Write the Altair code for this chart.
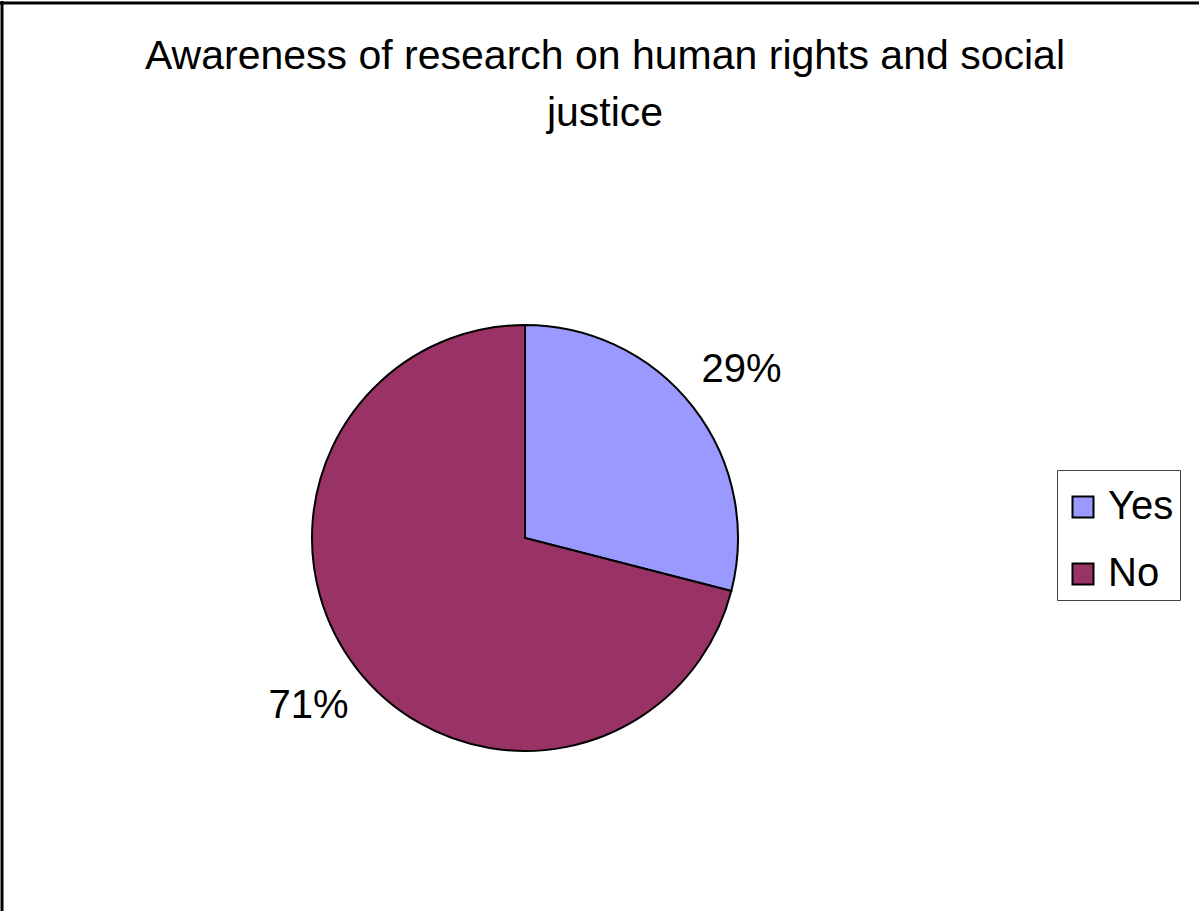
import altair as alt
import pandas as pd

# Survey answers and their shares (percent)
answers = ["Yes", "No"]
shares = [29, 71]
slice_order = [1, 2]
slice_colors = ["#9999FF", "#993366"]
title_lines = ["Awareness of research on human rights and social", "justice"]

df = pd.DataFrame({"answer": answers, "share": shares, "ord": slice_order})

FONT = "Liberation Sans"
TOP = 140          # space above the plot group
CX, CY = 525, 398  # pie centre inside the plot group
R = 213

base = alt.Chart(df).encode(
    theta=alt.Theta("share:Q", stack=True),
    order=alt.Order("ord:Q"),
)

pie = base.mark_arc(outerRadius=R, stroke="black", strokeWidth=2).encode(
    x=alt.value(CX),
    y=alt.value(CY),
    color=alt.Color(
        "answer:N",
        scale=alt.Scale(domain=answers, range=slice_colors),
        legend=alt.Legend(
            title=" ",
            titleFontSize=1,
            titlePadding=10,
            orient="none",
            legendX=1057,
            legendY=330,
            symbolType="square",
            symbolSize=441,
            symbolStrokeColor="black",
            symbolStrokeWidth=2,
            symbolOffset=0,
            labelFont=FONT,
            labelFontSize=40,
            labelColor="black",
            labelLimit=0,
            labelOffset=5,
            padding=6,
            rowPadding=27,
            strokeColor="#444444",
            fillColor="white",
        ),
    ),
)

labels = base.transform_calculate(
    label="format(datum.share, '.0f') + '%'"
).mark_text(
    radius=274, font=FONT, fontSize=40, color="black", align="center", baseline="middle"
).encode(
    x=alt.value(CX),
    y=alt.value(CY),
    text="label:N",
)

one_row = pd.DataFrame({"k": [0]})

# Two-line heading across the top
heading = alt.Chart(one_row).mark_text(
    text=title_lines,
    font=FONT,
    fontSize=41,
    color="black",
    align="center",
    baseline="alphabetic",
    lineHeight=57,
).encode(x=alt.value(605), y=alt.value(69 - TOP))

# Outer frame of the chart (top and left edges)
frame_top = alt.Chart(one_row).mark_rule(color="black", strokeWidth=3).encode(
    x=alt.value(0), x2=alt.value(1199), y=alt.value(3 - TOP)
)
frame_left = alt.Chart(one_row).mark_rule(color="black", strokeWidth=3).encode(
    x=alt.value(2), y=alt.value(1 - TOP), y2=alt.value(771)
)

chart = alt.layer(frame_top, frame_left, heading, pie, labels).properties(
    width=1199,
    height=771,
    autosize=alt.AutoSizeParams(type="none"),
    padding={"left": 0, "right": 0, "top": TOP, "bottom": 0},
    background="white",
).configure_view(stroke=None)

chart.save("out.html", embed_options={"renderer": "svg", "actions": False})
